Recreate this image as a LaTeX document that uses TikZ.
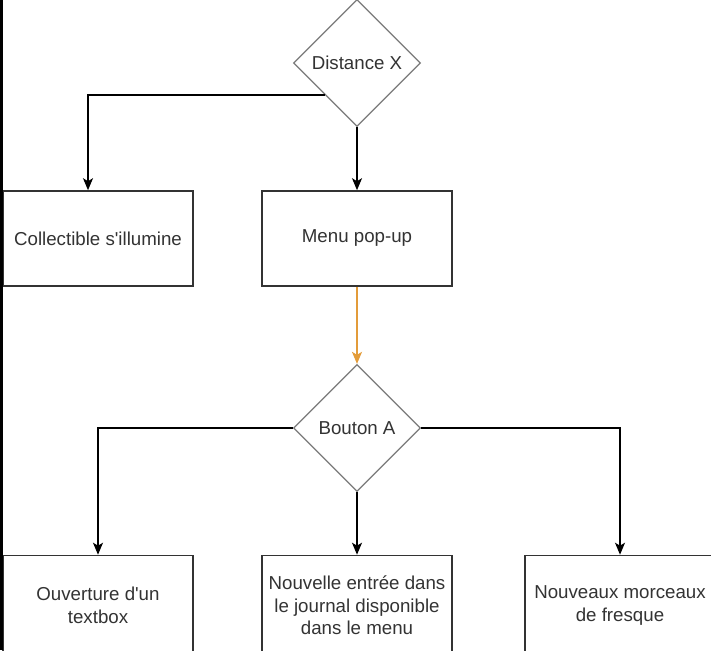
\documentclass[tikz,border=0pt]{standalone}
\usepackage{fontspec}
\setmainfont{Liberation Sans}[Ligatures=TeXOff]
\usetikzlibrary{shapes.geometric,arrows.meta}
\definecolor{txt}{HTML}{333333}
\definecolor{boxline}{HTML}{333333}
\definecolor{diamline}{HTML}{7A7A7A}
\definecolor{orangeline}{HTML}{E39C3A}
\tikzset{
  procbox/.style={draw=boxline, line width=1.6pt, fill=white, minimum width=190pt, minimum height=95pt, inner sep=0pt, align=center, text=txt, font=\fontsize{18.7}{22.4}\selectfont},
  lowbox/.style={procbox, minimum height=100pt},
  decision/.style={diamond, aspect=1, draw=diamline, line width=1.3pt, fill=white, minimum width=127pt, minimum height=127pt, inner sep=0pt, text=txt, font=\fontsize{18.7}{22.4}\selectfont},
  flow/.style={draw=black, line width=1.4pt, -{Stealth[length=12pt,width=10pt,inset=3pt]}},
  flowor/.style={draw=orangeline, line width=1.4pt, -{Stealth[length=12pt,width=10pt,inset=3pt]}}
}
\begin{document}
\begin{tikzpicture}[x=1pt,y=-1pt]
\clip (0,0) rectangle (711,650);
\fill[white] (0,0) rectangle (711,650);
\node[decision] (d1) at (357,63) {Distance X};
\node[procbox] (coll) at (98,238.5) {Collectible s'illumine};
\node[procbox] (menu) at (357,238.5) {Menu pop-up};
\node[decision] (d2) at (357,428) {Bouton A};
\node[lowbox] (out1) at (98,605.5) {Ouverture d'un\\textbox};
\node[lowbox] (out2) at (357,605.5) {Nouvelle entrée dans\\le journal disponible\\dans le menu};
\node[lowbox] (out3) at (620,605.5) {Nouveaux morceaux\\de fresque};
\coordinate (collin) at ([xshift=-10pt]coll.north);
\draw[flow] (d1.south west) -| (collin);
\draw[flow] (d1.south) -- (menu.north);
\draw[flowor] (menu.south) -- (d2.north);
\draw[flow] (d2.west) -| (out1.north);
\draw[flow] (d2.south) -- (out2.north);
\draw[flow] (d2.east) -| (out3.north);
\draw[black, line width=3pt] (1.5,0) -- (1.5,650);
\end{tikzpicture}
\end{document}
